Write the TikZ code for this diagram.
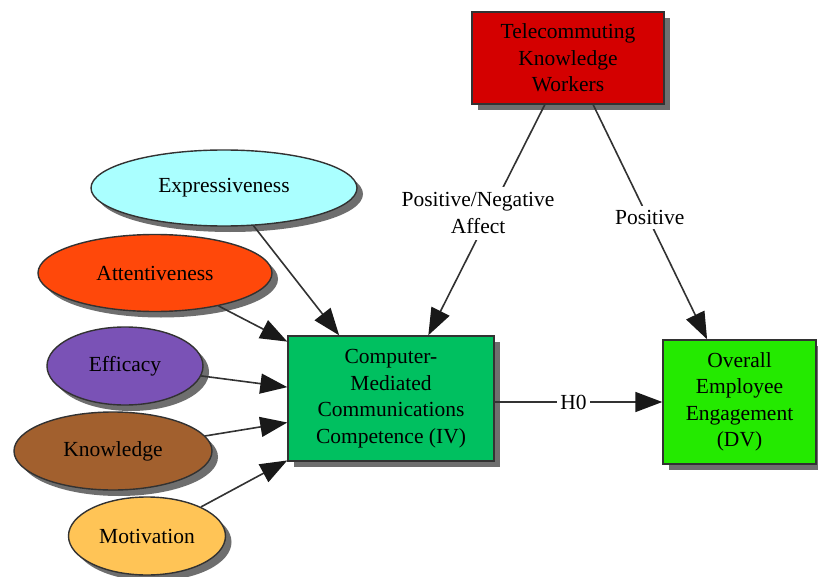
\documentclass[tikz,border=0pt]{standalone}
\usepackage{fontspec}
\setmainfont{Liberation Serif}
\usetikzlibrary{arrows.meta,shapes.geometric,shadows,calc}
\definecolor{redbox}{RGB}{212,0,0}
\definecolor{exprc}{RGB}{170,255,255}
\definecolor{attc}{RGB}{255,72,10}
\definecolor{effc}{RGB}{122,82,182}
\definecolor{knowc}{RGB}{162,96,46}
\definecolor{motc}{RGB}{255,196,86}
\definecolor{cmcc}{RGB}{0,192,96}
\definecolor{dvc}{RGB}{36,234,0}
\definecolor{edge}{RGB}{50,50,50}
\definecolor{shade}{RGB}{110,110,110}
\begin{document}
\begin{tikzpicture}[x=1pt,y=-1pt,
  every node/.style={font=\fontsize{21.5}{26.5}\selectfont},
  shad/.style={drop shadow={shadow xshift=6pt,shadow yshift=-6pt,fill=shade,opacity=1}},
  boxnode/.style={draw=edge,line width=1.4pt,align=center,inner sep=0pt,shad},
  ell/.style={ellipse,draw=edge,line width=1.4pt,inner sep=0pt,shad},
  conn/.style={draw=edge,line width=1.6pt,-{Triangle[length=27pt,width=20pt,fill=black!90,color=black!90]}},
  lab/.style={fill=white,inner sep=4pt,align=center}]
\useasboundingbox (0,0) rectangle (818,577);
\fill[white] (0,0) rectangle (818,577);

\node[boxnode,fill=redbox,minimum width=192pt,minimum height=92pt] (tkw) at (568,58)
  {Telecommuting\\Knowledge\\Workers};
\node[boxnode,fill=cmcc,minimum width=206pt,minimum height=125pt] (cmc) at (391,398.5)
  {Computer-\\Mediated\\Communications\\Competence (IV)};
\node[boxnode,fill=dvc,minimum width=153pt,minimum height=124pt] (dv) at (739.5,402)
  {Overall\\Employee\\Engagement\\(DV)};

\node[ell,fill=exprc,minimum width=266pt,minimum height=76pt] (expr) at (224,188) {Expressiveness};
\node[ell,fill=attc,minimum width=234pt,minimum height=77pt] (att) at (155,273) {Attentiveness};
\node[ell,fill=effc,minimum width=156pt,minimum height=78pt] (eff) at (125,366) {Efficacy};
\node[ell,fill=knowc,minimum width=198pt,minimum height=78pt] (know) at (113,451) {Knowledge};
\node[ell,fill=motc,minimum width=157pt,minimum height=78pt] (mot) at (147,536) {Motivation};

\coordinate (tE) at ($(cmc.north west)!0.25!(cmc.north east)$);
\coordinate (tT) at ($(cmc.north west)!0.68!(cmc.north east)$);
\coordinate (tA) at ($(cmc.north west)!0.05!(cmc.south west)$);
\coordinate (tF) at ($(cmc.north west)!0.41!(cmc.south west)$);
\coordinate (tK) at ($(cmc.north west)!0.69!(cmc.south west)$);
\coordinate (tM) at ($(cmc.north west)!0.99!(cmc.south west)$);
\coordinate (sL) at ($(tkw.south west)!0.38!(tkw.south east)$);
\coordinate (sR) at ($(tkw.south west)!0.63!(tkw.south east)$);
\coordinate (tD) at ($(dv.north west)!0.29!(dv.north east)$);

\draw[conn] (expr) -- (tE);
\draw[conn] (att) -- (tA);
\draw[conn] (eff) -- (tF);
\draw[conn] (know) -- (tK);
\draw[conn] (mot) -- (tM);

\draw[conn] (sL) -- node[lab,pos=0.47,xshift=-12pt,inner sep=6pt] {Positive/Negative\\Affect} (tT);
\draw[conn] (sR) -- node[lab,pos=0.48,xshift=2pt] {Positive} (tD);
\draw[conn] (cmc.east |- dv.west) -- node[lab,pos=0.47,inner sep=3pt] {H0} (dv.west);
\end{tikzpicture}
\end{document}
